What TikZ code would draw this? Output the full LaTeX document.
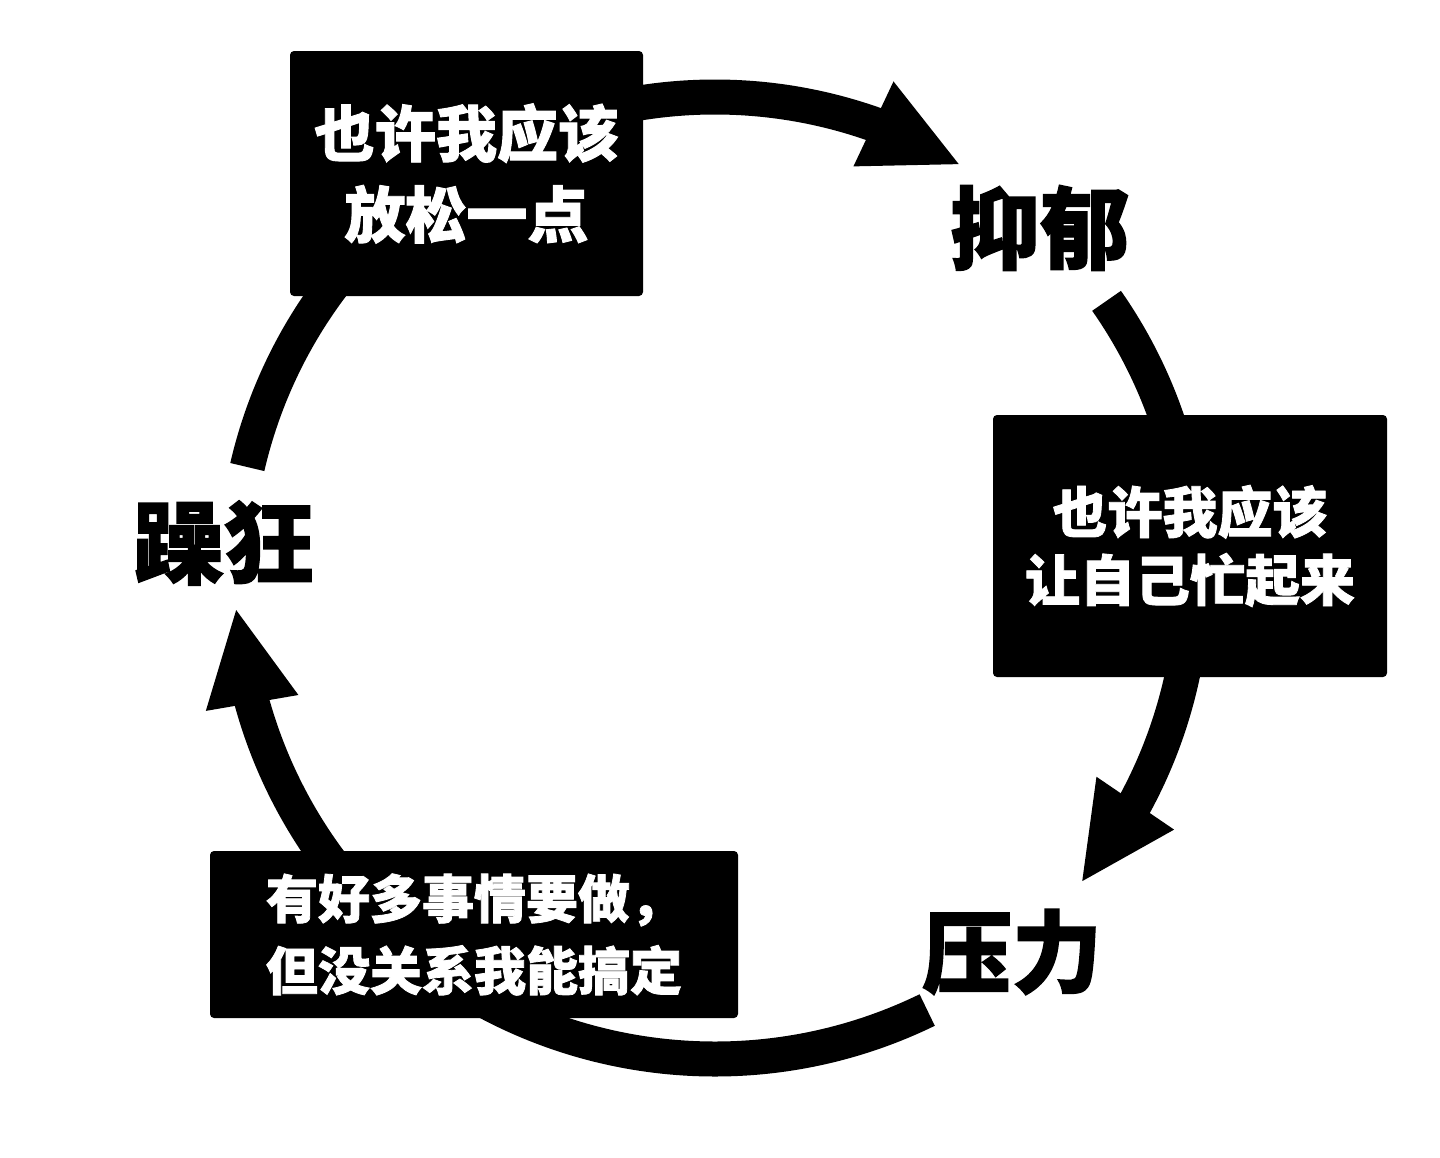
\documentclass[tikz,border=0pt]{standalone}
\usepackage{fontspec}
\newfontfamily\cjk{Noto Sans CJK SC}[BoldFeatures={FakeBold=1.5}]
\usetikzlibrary{arrows.meta,bending}
\begin{document}
\begin{tikzpicture}[x=1pt,y=-1pt,
  flow/.style={line width=35pt, draw=black, line cap=butt},
  flowtip/.style={flow, -{Triangle[length=97pt,width=86pt,flex']}},
  msgbox/.style={fill=black, rounded corners=4pt, text=white, align=center, inner sep=0pt},
  state/.style={text=black, inner sep=0pt, font=\cjk\bfseries\fontsize{90}{90}\selectfont}]
\useasboundingbox (0,0) rectangle (1440,1157);
\fill[white] (0,0) rectangle (1440,1157);
\coordinate (O) at (715,575);
% arc start points
\path (O) ++(193:480) coordinate (s1);
\path (O) ++(255:478) coordinate (s2);
\path (O) ++(325:478) coordinate (s3);
\path (O) ++(5:478) coordinate (s4);
\path (O) ++(64:484) coordinate (s5);
\path (O) ++(140:480) coordinate (s6);
% connectors
\draw[flow] (s1) arc[start angle=193, end angle=235, radius=480];
\draw[flowtip] (s2) arc[start angle=255, end angle=301, radius=478];
\draw[flow] (s3) arc[start angle=325, end angle=350, radius=478];
\draw[flowtip] (s4) arc[start angle=5, end angle=40, radius=480];
\draw[flow] (s5) arc[start angle=64, end angle=125, radius=484];
\draw[flowtip] (s6) arc[start angle=140, end angle=176, radius=482];
% boxes
\node[msgbox, minimum width=353pt, minimum height=245pt,
  font=\cjk\bfseries\fontsize{61}{81}\selectfont] (b1) at (466.5,173.5) {也许我应该\\放松一点};
\node[msgbox, minimum width=394pt, minimum height=262pt,
  font=\cjk\bfseries\fontsize{55}{68}\selectfont] (b2) at (1190,546) {也许我应该\\让自己忙起来};
\node[msgbox, minimum width=528pt, minimum height=167pt,
  font=\cjk\bfseries\fontsize{52}{72}\selectfont] (b3) at (474,934.5) {有好多事情要做，\\但没关系我能搞定};
% states
\node[state] (yiyu) at (1040,228) {抑郁};
\node[state] (yali) at (1012,952) {压力};
\node[state] (zaokuang) at (224,543) {躁狂};
\end{tikzpicture}
\end{document}
